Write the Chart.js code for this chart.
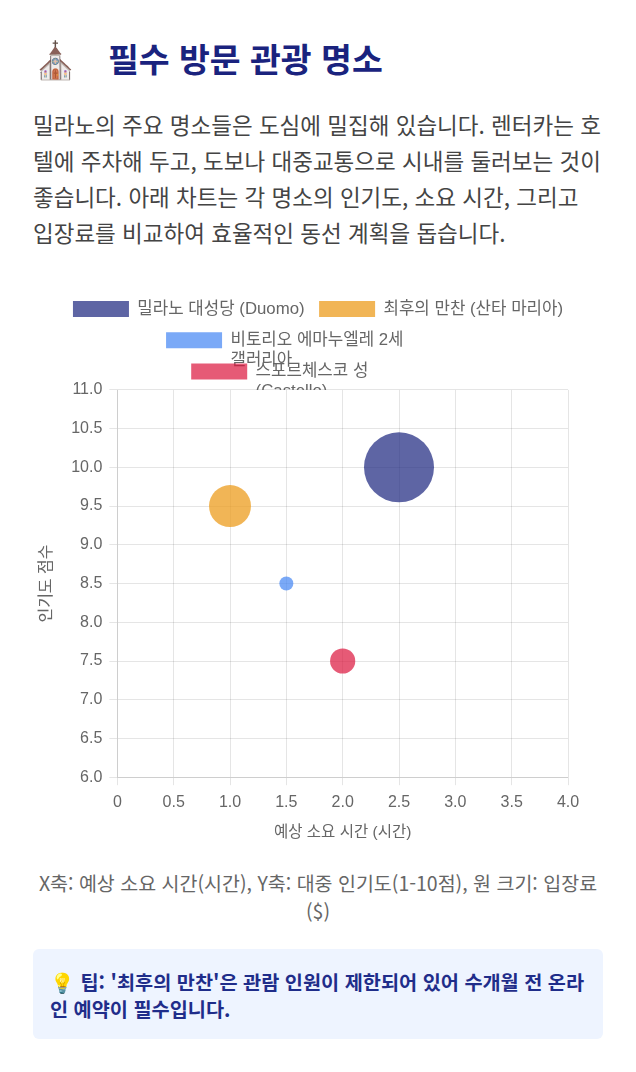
<!DOCTYPE html>
<html lang="ko">
<head>
<meta charset="utf-8">
<title>필수 방문 관광 명소</title>
<script src="https://cdn.jsdelivr.net/npm/chart.js@4.4.1/dist/chart.umd.min.js"></script>
<style>
  body {
    margin: 0;
    padding: 0 33px;
    background: #fff;
    font-family: "Noto Sans CJK KR", "Noto Sans", sans-serif;
  }
  h2 {
    margin: 30px 0 0 0;
    font-size: 33.5px;
    font-weight: 700;
    color: #1a237e;
    display: flex;
    align-items: center;
    height: 54px;
  }
  h2 .icon {
    font-size: 36px;
    margin: 0 30px 0 0;
  }
  p.intro {
    margin: 22px 0 0 0;
    font-size: 22.5px;
    line-height: 36px;
    color: #444;
  }
  .chart-box {
    position: relative;
    width: 570px;
    height: 560px;
    margin-top: 36px;
  }
  .caption {
    margin: 23px 0 0 0;
    text-align: center;
    font-size: 19.5px;
    line-height: 28px;
    color: #666;
  }
  .tip {
    margin-top: 24px;
    background: #eef4ff;
    border-radius: 6px;
    padding: 19px 17px 17px 17px;
    font-size: 19.7px;
    line-height: 27px;
    font-weight: 700;
    color: #1f2d8a;
  }
</style>
</head>
<body>
<h2><span class="icon">⛪</span>필수 방문 관광 명소</h2>
<p class="intro">밀라노의 주요 명소들은 도심에 밀집해 있습니다. 렌터카는 호텔에 주차해 두고, 도보나 대중교통으로 시내를 둘러보는 것이 좋습니다. 아래 차트는 각 명소의 인기도, 소요 시간, 그리고 입장료를 비교하여 효율적인 동선 계획을 돕습니다.</p>

<div class="chart-box"><canvas id="myChart"></canvas></div>

<p class="caption">X축: 예상 소요 시간(시간), Y축: 대중 인기도(1-10점), 원 크기: 입장료($)</p>

<div class="tip">💡 팁: '최후의 만찬'은 관람 인원이 제한되어 있어 수개월 전 온라인 예약이 필수입니다.</div>

<script>
// places, shown in the legend (some split in two lines)
var places = [
    '밀라노 대성당 (Duomo)',
    '최후의 만찬 (산타 마리아)',
    ['비토리오 에마누엘레 2세', '갤러리아'],
    ['스포르체스코 성', '(Castello)']
];
var hours = [2.5, 1, 1.5, 2];          // x: 예상 소요 시간
var popularity = [10, 9.5, 8.5, 7.5];  // y: 인기도 점수
var fees = [25, 15, 5, 9];             // 원 크기: 입장료($)
var colors = [
    'rgba(26, 35, 126, 0.7)',
    'rgba(236, 156, 30, 0.75)',
    'rgba(66, 133, 244, 0.7)',
    'rgba(220, 20, 60, 0.7)'
];

var datasets = [];
for (var i = 0; i < places.length; i++) {
    datasets.push({
        label: places[i],
        data: [{ x: hours[i], y: popularity[i], r: fees[i] * 1.4 }],
        backgroundColor: colors[i],
        borderColor: colors[i],
        borderWidth: 0
    });
}

Chart.defaults.font.family = "'Liberation Sans', 'Noto Sans CJK KR', sans-serif";
Chart.defaults.color = '#666';

// legend sits centred on the page, not on the padded area
var legendShift = {
    id: 'legendShift',
    afterLayout: function(chart) {
        chart.legend.left += 12;
        chart.legend.right += 12;
    }
};

var ctx = document.getElementById('myChart').getContext('2d');
var chart = new Chart(ctx, {
    type: 'bubble',
    data: { datasets: datasets },
    plugins: [legendShift],
    options: {
        responsive: true,
        maintainAspectRatio: false,
        animation: false,
        layout: { padding: { right: 24 } },
        plugins: {
            legend: {
                position: 'top',
                labels: {
                    boxWidth: 56,
                    boxHeight: 16,
                    padding: 14.5,
                    font: { size: 16.8 }
                }
            },
            tooltip: { enabled: false }
        },
        scales: {
            x: {
                min: 0,
                max: 4,
                ticks: { stepSize: 0.5, padding: 8, font: { size: 16 } },
                title: {
                    display: true,
                    text: '예상 소요 시간 (시간)',
                    padding: { top: 3, bottom: 4 },
                    font: { size: 15.5 }
                }
            },
            y: {
                min: 6,
                max: 11,
                ticks: {
                    stepSize: 0.5,
                    padding: 7,
                    font: { size: 16 },
                    callback: function(v) { return v.toFixed(1); }
                },
                title: {
                    display: true,
                    text: '인기도 점수',
                    padding: { top: 4, bottom: 8 },
                    font: { size: 16 }
                }
            }
        }
    }
});
</script>
</body>
</html>
